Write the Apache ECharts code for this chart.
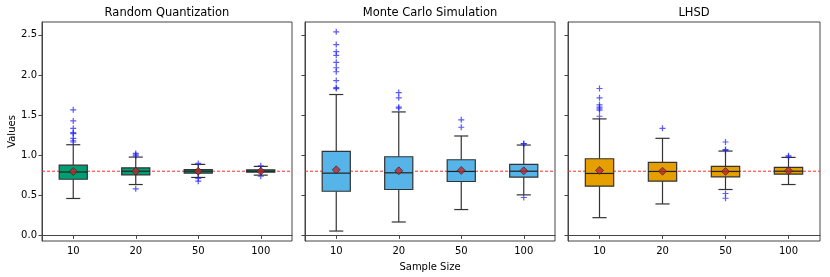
<!DOCTYPE html>
<html>
<head>
<meta charset="utf-8">
<script src="https://cdn.jsdelivr.net/npm/echarts@6/dist/echarts.min.js"></script>
<style>html,body{margin:0;padding:0;background:#fff}#c{width:830px;height:277px}</style>
</head>
<body>
<div id="c"></div>
<script>
var categories = ['10', '20', '50', '100'];
var panelTitles = ['Random Quantization', 'Monte Carlo Simulation', 'LHSD'];
var yTicks = [0, 0.5, 1.0, 1.5, 2.0, 2.5];
var refValue = 0.8;

// [lowerWhisker, Q1, median, Q3, upperWhisker]
var rqBoxes = [
  [0.46, 0.70, 0.79, 0.876, 1.13],
  [0.634, 0.755, 0.80, 0.842, 0.976],
  [0.722, 0.776, 0.80, 0.82, 0.885],
  [0.751, 0.789, 0.80, 0.817, 0.86]
];
var rqMeans = [0.797, 0.80, 0.80, 0.80];
var rqOutliers = [
  [0, 1.565], [0, 1.427], [0, 1.335], [0, 1.28], [0, 1.268], [0, 1.21], [0, 1.18], [0, 1.164],
  [1, 1.022], [1, 1.005], [1, 0.99], [1, 0.58],
  [2, 0.897], [2, 0.71], [2, 0.676],
  [3, 0.867], [3, 0.738]
];

var mcBoxes = [
  [0.054, 0.55, 0.776, 1.047, 1.756],
  [0.167, 0.572, 0.78, 0.98, 1.539],
  [0.322, 0.672, 0.797, 0.943, 1.239],
  [0.505, 0.726, 0.80, 0.885, 1.126]
];
var mcMeans = [0.817, 0.805, 0.81, 0.805];
var mcOutliers = [
  [0, 2.537], [0, 2.378], [0, 2.29], [0, 2.244], [0, 2.157], [0, 2.09], [0, 2.04], [0, 1.93], [0, 1.843], [0, 1.83],
  [1, 1.78], [1, 1.715], [1, 1.598], [1, 1.585],
  [2, 1.44], [2, 1.348],
  [3, 1.14], [3, 1.145], [3, 0.472]
];

var lhBoxes = [
  [0.221, 0.613, 0.772, 0.955, 1.452],
  [0.392, 0.676, 0.797, 0.91, 1.21],
  [0.572, 0.73, 0.797, 0.86, 1.051],
  [0.634, 0.763, 0.80, 0.847, 0.972]
];
var lhMeans = [0.81, 0.80, 0.797, 0.805];
var lhOutliers = [
  [0, 1.831], [0, 1.715], [0, 1.627], [0, 1.60], [0, 1.577], [0, 1.56], [0, 1.485],
  [1, 1.335],
  [2, 1.164], [2, 1.07], [2, 1.06], [2, 0.522], [2, 0.463],
  [3, 0.993], [3, 0.98]
];

var boxColors = ['#009E73', '#56B4E9', '#E69F00'];
var panels = [
  {boxes: rqBoxes, means: rqMeans, outliers: rqOutliers},
  {boxes: mcBoxes, means: mcMeans, outliers: mcOutliers},
  {boxes: lhBoxes, means: lhMeans, outliers: lhOutliers}
];

var grids = [
  {left: 42, top: 22, width: 250, height: 219},
  {left: 305, top: 22, width: 250, height: 219},
  {left: 568, top: 22, width: 252, height: 219}
];

var FONT = 'DejaVu Sans';
var chart = echarts.init(document.getElementById('c'), null, {renderer: 'canvas'});

var plus = 'path://M4,0h2v4h4v2h-4v4h-2v-4h-4v-2h4z';

var option = {
  backgroundColor: '#fff',
  animation: false,
  title: grids.map(function (g, i) {
    return {text: panelTitles[i], left: g.left + g.width / 2, top: 7, padding: 0, textAlign: 'center',
      textStyle: {fontFamily: FONT, fontSize: 11.5, fontWeight: 'normal', color: '#000'}};
  }),
  grid: grids.map(function (g) {
    return {left: g.left, top: g.top, width: g.width, height: g.height, show: true,
      borderColor: '#444', borderWidth: 1, backgroundColor: 'transparent', containLabel: false};
  }),
  xAxis: grids.map(function (g, i) {
    return {type: 'category', gridIndex: i, data: categories, boundaryGap: true,
      name: i === 1 ? 'Sample Size' : '', nameLocation: 'middle', nameGap: 21,
      nameTextStyle: {fontFamily: FONT, fontSize: 10, color: '#000'},
      axisLine: {show: true, lineStyle: {color: '#444'}},
      axisTick: {show: true, alignWithLabel: true, length: 3.5, lineStyle: {color: '#444'}},
      axisLabel: {fontFamily: FONT, fontSize: 10, color: '#000', margin: 5},
      splitLine: {show: false}};
  }),
  yAxis: grids.map(function (g, i) {
    return {type: 'value', gridIndex: i, min: -0.07, max: 2.66,
      name: i === 0 ? 'Values' : '', nameLocation: 'middle', nameGap: 25,
      nameTextStyle: {fontFamily: FONT, fontSize: 10, color: '#000'},
      axisLine: {show: true, lineStyle: {color: '#444'}},
      axisTick: {show: true, length: 3.5, lineStyle: {color: '#444'}, customValues: yTicks},
      axisLabel: {show: i === 0, fontFamily: FONT, fontSize: 10, color: '#000', margin: 5,
        customValues: yTicks, formatter: function (v) { return v.toFixed(1); }},
      splitLine: {show: false}};
  }),
  series: []
};

panels.forEach(function (p, i) {
  // boxes (+ reference line drawn under them with the first item)
  option.series.push({
    type: 'custom', xAxisIndex: i, yAxisIndex: i, z: 2,
    data: p.boxes.map(function (b, k) { return [k, b[0], b[1], b[2], b[3], b[4]]; }),
    encode: {x: 0, y: [1, 2, 3, 4, 5]},
    renderItem: function (params, api) {
      var k = api.value(0);
      var bw = api.size([1, 0])[0] * 0.45;
      var cw = bw * 0.5;
      var c = function (v) { return api.coord([k, v]); };
      var lo = c(api.value(1)), q1 = c(api.value(2)), md = c(api.value(3)), q3 = c(api.value(4)), hi = c(api.value(5));
      var x = lo[0];
      var ls = {stroke: '#333', lineWidth: 1.2};
      var children = [];
      if (k === 0) {
        var cs = params.coordSys;
        var ry = api.coord([0, refValue])[1];
        children.push({type: 'line', shape: {x1: cs.x, y1: ry, x2: cs.x + cs.width, y2: ry},
          style: {stroke: '#ff2a2a', lineWidth: 1, lineDash: [3, 2]}});
      }
      children.push(
        {type: 'line', shape: {x1: x, y1: q1[1], x2: x, y2: lo[1]}, style: ls},
        {type: 'line', shape: {x1: x, y1: q3[1], x2: x, y2: hi[1]}, style: ls},
        {type: 'line', shape: {x1: x - cw / 2, y1: lo[1], x2: x + cw / 2, y2: lo[1]}, style: ls},
        {type: 'line', shape: {x1: x - cw / 2, y1: hi[1], x2: x + cw / 2, y2: hi[1]}, style: ls},
        {type: 'rect', shape: {x: x - bw / 2, y: q3[1], width: bw, height: q1[1] - q3[1]},
          style: {fill: boxColors[i], stroke: '#333', lineWidth: 1.2}},
        {type: 'line', shape: {x1: x - bw / 2, y1: md[1], x2: x + bw / 2, y2: md[1]}, style: {stroke: '#222', lineWidth: 1.2}}
      );
      return {type: 'group', children: children};
    }
  });
  // outliers
  option.series.push({
    type: 'scatter', xAxisIndex: i, yAxisIndex: i, z: 3, symbol: plus, symbolSize: 6,
    itemStyle: {color: 'rgba(25,25,255,0.9)'},
    data: p.outliers.map(function (o) { return [categories[o[0]], o[1]]; })
  });
  // means
  option.series.push({
    type: 'scatter', xAxisIndex: i, yAxisIndex: i, z: 4, symbol: 'diamond', symbolSize: 8,
    itemStyle: {color: '#c0282d', borderColor: '#222', borderWidth: 0.8},
    data: p.means.map(function (m, k) { return [categories[k], m]; })
  });
});

chart.setOption(option);
</script>
</body>
</html>
